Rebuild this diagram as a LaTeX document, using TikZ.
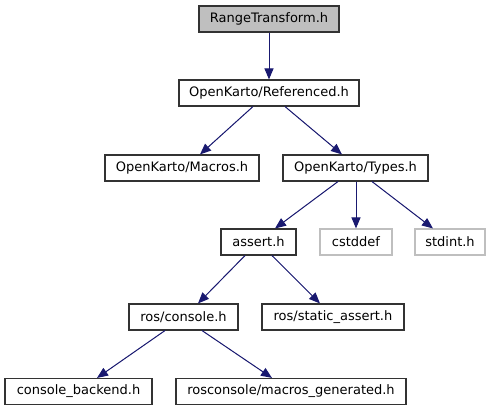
\documentclass[tikz,border=0pt]{standalone}
\usepackage{fontspec}
\setmainfont{DejaVu Sans}
\usetikzlibrary{arrows.meta}
\definecolor{edgeblue}{HTML}{191970}
\definecolor{boxgray}{HTML}{BFBFBF}
\definecolor{lightborder}{HTML}{BFBFBF}
\begin{document}
\begin{tikzpicture}[x=1pt,y=-1pt,
  hdr/.style={draw=black!80, line width=1.1pt, minimum height=26pt, inner sep=0pt,
    font=\fontsize{13}{15}\selectfont, fill=white},
  ext/.style={hdr, draw=lightborder},
  dep/.style={draw=edgeblue, line width=1pt, -{Triangle[length=11pt,width=9pt]}, fill=edgeblue}]
\useasboundingbox (0,0) rectangle (491,411);
\node[hdr, fill=boxgray, minimum width=140pt] (rt) at (269,19) {RangeTransform.h};
\node[hdr, minimum width=180pt] (ref) at (269,93) {OpenKarto/Referenced.h};
\node[hdr, minimum width=154pt] (mac) at (182,168) {OpenKarto/Macros.h};
\node[hdr, minimum width=145pt] (typ) at (355.5,168) {OpenKarto/Types.h};
\node[hdr, minimum width=75pt] (ass) at (258.5,242) {assert.h};
\node[ext, minimum width=72pt] (cst) at (356,242) {cstddef};
\node[ext, minimum width=70pt] (std) at (450,242) {stdint.h};
\node[hdr, minimum width=109pt] (con) at (183.5,317) {ros/console.h};
\node[hdr, minimum width=142pt] (sta) at (333,317) {ros/static\_assert.h};
\node[hdr, minimum width=147pt] (bak) at (78.5,391.5) {console\_backend.h};
\node[hdr, minimum width=230pt] (mg) at (291,391.5) {rosconsole/macros\_generated.h};

\draw[dep] (rt.south) -- (ref.north);
\draw[dep] ([xshift=-16pt]ref.south) -- ([xshift=18pt]mac.north);
\draw[dep] ([xshift=16pt]ref.south) -- ([xshift=-13.5pt]typ.north);
\draw[dep] ([xshift=-17.5pt]typ.south) -- ([xshift=16.5pt]ass.north);
\draw[dep] ([xshift=0.5pt]typ.south) -- (cst.north);
\draw[dep] ([xshift=16.5pt]typ.south) -- ([xshift=-17pt]std.north);
\draw[dep] ([xshift=-13.5pt]ass.south) -- ([xshift=14.5pt]con.north);
\draw[dep] ([xshift=13.5pt]ass.south) -- ([xshift=-13pt]sta.north);
\draw[dep] ([xshift=-18.5pt]con.south) -- ([xshift=18.5pt]bak.north);
\draw[dep] ([xshift=18.5pt]con.south) -- ([xshift=-19pt]mg.north);
\end{tikzpicture}
\end{document}
